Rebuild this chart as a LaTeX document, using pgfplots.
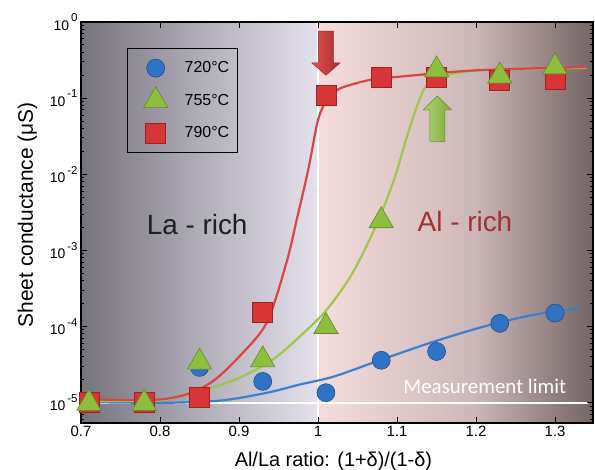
\documentclass[border=0pt]{standalone}
\usepackage{fontspec}
\setmainfont{Liberation Sans}
\newfontfamily\carlito{Carlito}
\usepackage{pgfplots}
\pgfplotsset{compat=1.18}
\definecolor{leftA}{HTML}{76737C}
\definecolor{leftB}{HTML}{B0ACB8}
\definecolor{leftC}{HTML}{E4E1EC}
\definecolor{rightA}{HTML}{F6DCDC}
\definecolor{rightB}{HTML}{CBB6B7}
\definecolor{rightC}{HTML}{756565}
\definecolor{blueF}{HTML}{2F74C4}
\definecolor{blueD}{HTML}{1F4F8F}
\definecolor{blueL}{HTML}{3A80D0}
\definecolor{greenF}{HTML}{8DBE3E}
\definecolor{greenD}{HTML}{5F8A26}
\definecolor{greenL}{HTML}{9CC84A}
\definecolor{redF}{HTML}{D83636}
\definecolor{redD}{HTML}{9E2020}
\definecolor{redL}{HTML}{D94444}
\definecolor{alrich}{HTML}{A3302F}
\newcommand{\ex}[1]{\kern2bp\raisebox{0.6em}{\fontsize{11.5}{12}\selectfont #1}}
\begin{document}
\begin{tikzpicture}
\begin{axis}[
  width=512bp, height=401bp, scale only axis,
  xmin=0.7, xmax=1.348, ymode=log, ymin=5.4e-6, ymax=1,
  clip=false, axis on top,
  axis line style={line width=1.4bp, black},
  every tick/.style={black, line width=1bp},
  major tick length=6bp, minor tick length=3.5bp,
  xtick={0.7,0.8,0.9,1,1.1,1.2,1.3},
  xticklabels={0.7,0.8,0.9,1,1.1,1.2,1.3},
  ytick={1e-5,1e-4,1e-3,1e-2,1e-1,1},
  yticklabels={10\ex{-5},10\ex{-4},10\ex{-3},10\ex{-2},10\ex{-1},10\ex{0}},
  minor ytick={6e-6,7e-6,8e-6,9e-6,2e-5,3e-5,4e-5,5e-5,6e-5,7e-5,8e-5,9e-5,2e-4,3e-4,4e-4,5e-4,6e-4,7e-4,8e-4,9e-4,2e-3,3e-3,4e-3,5e-3,6e-3,7e-3,8e-3,9e-3,2e-2,3e-2,4e-2,5e-2,6e-2,7e-2,8e-2,9e-2,0.2,0.3,0.4,0.5,0.6,0.7,0.8,0.9},
  xticklabel style={font=\fontsize{15}{17}\selectfont},
  yticklabel style={font=\fontsize{14}{16}\selectfont},
  xlabel={Al/La ratio: (1+δ)/(1-δ)},
  ylabel={Sheet conductance (μS)},
  xlabel style={font=\fontsize{20}{22}\selectfont, at={(axis description cs:0.493,-0.1097)}, anchor=base},
  ylabel style={font=\fontsize{21}{23}\selectfont, at={(axis description cs:-0.0938,0.519)}, anchor=base},
  legend style={at={(rel axis cs:0.09,0.935)}, anchor=north west, draw=black, line width=1.2bp, fill=none,
    font=\fontsize{16}{18}\selectfont, inner xsep=6bp, inner ysep=3.25bp, column sep=14bp, row sep=0bp},
  legend cell align=left,
  legend image code/.code={\path[draw=none,fill=none] (-22bp,-16.25bp) rectangle (13bp,16.25bp); \draw[#1] plot coordinates {(0bp,0bp)};},
]
% background
\shade[left color=leftA, right color=leftB] (axis cs:0.7,5.4e-6) rectangle (axis cs:0.851,1);
\shade[left color=leftB, right color=leftC] (axis cs:0.85,5.4e-6) rectangle (axis cs:1.0,1);
\shade[left color=rightA, right color=rightB] (axis cs:1.0,5.4e-6) rectangle (axis cs:1.201,1);
\shade[left color=rightB, right color=rightC] (axis cs:1.2,5.4e-6) rectangle (axis cs:1.348,1);
\draw[white, line width=1.2bp] (axis cs:1,5.4e-6) -- (axis cs:1,1);
\draw[white, line width=2bp] (axis cs:0.7,1e-5) -- (axis cs:1.342,1e-5);

\addlegendimage{only marks, mark=*, mark size=9bp, mark options={fill=blueF, draw=blueD, line width=0.6bp}}
\addlegendentry{720°C}
\addlegendimage{only marks, mark=triangle*, mark size=14bp, mark options={fill=greenF, draw=greenD, line width=0.6bp}}
\addlegendentry{755°C}
\addlegendimage{only marks, mark=square*, mark size=10bp, mark options={fill=redF, draw=redD, line width=0.6bp}}
\addlegendentry{790°C}

% fitted curves
\addplot[blueL, line width=2.2bp, smooth, forget plot] coordinates {
(0.70,1.02e-5) (0.76,1.0e-5) (0.82,1.0e-5) (0.87,1.05e-5) (0.90,1.15e-5) (0.94,1.38e-5) (0.977,1.73e-5) (1.02,2.2e-5)
(1.078,3.6e-5) (1.146,6.3e-5) (1.213,1.02e-4) (1.272,1.42e-4) (1.332,1.77e-4)};
\addplot[greenL, line width=2.2bp, smooth, forget plot] coordinates {
(0.70,1.05e-5) (0.75,1.05e-5) (0.80,1.07e-5) (0.85,1.4e-5) (0.90,2.1e-5) (0.943,3.7e-5) (0.977,7.4e-5) (1.011,1.66e-4)
(1.044,5.1e-4) (1.075,2.3e-3) (1.097,9e-3) (1.112,0.03) (1.125,0.077) (1.138,0.15) (1.163,0.2) (1.214,0.235) (1.34,0.25)};
\addplot[redL, line width=2.2bp, smooth, forget plot] coordinates {
(0.70,1.12e-5) (0.75,1.08e-5) (0.80,1.1e-5) (0.83,1.25e-5) (0.85,1.5e-5) (0.872,2.1e-5) (0.90,4.0e-5) (0.935,1.12e-4)
(0.96,6.9e-4) (0.974,2.8e-3) (0.988,1.2e-2) (0.999,0.047) (1.007,0.08) (1.017,0.11) (1.03,0.137) (1.066,0.174) (1.10,0.19) (1.2,0.232) (1.34,0.256)};

% data markers
\addplot[only marks, mark=*, mark size=9bp, mark options={fill=blueF, draw=blueD, line width=0.6bp}, forget plot] coordinates {
(0.71,1.0e-5) (0.78,1.0e-5) (0.85,2.9e-5) (0.93,1.9e-5) (1.01,1.35e-5) (1.08,3.6e-5) (1.15,4.7e-5) (1.23,1.1e-4) (1.30,1.5e-4)};
\addplot[only marks, mark=square*, mark size=10bp, mark options={fill=redF, draw=redD, line width=0.6bp}, forget plot] coordinates {
(0.71,1.0e-5) (0.78,1.0e-5) (0.85,1.17e-5) (0.93,1.55e-4) (1.01,0.11) (1.08,0.185) (1.15,0.185) (1.23,0.17) (1.30,0.175)};
\addplot[only marks, mark=triangle*, mark size=14bp, mark options={fill=greenF, draw=greenD, line width=0.6bp}, forget plot] coordinates {
(0.71,9.8e-6) (0.78,9.8e-6) (0.85,3.4e-5) (0.93,3.65e-5) (1.01,1.0e-4) (1.08,2.45e-3) (1.15,0.235) (1.23,0.195) (1.30,0.257)};

% arrows
\shadedraw[left color=redF!85!white, right color=redF!80!black, draw=redD, line width=0.5bp]
 (axis cs:1.0005,0.76) -- (axis cs:1.0195,0.76) -- (axis cs:1.0195,0.29) -- (axis cs:1.0277,0.29) -- (axis cs:1.01,0.2) -- (axis cs:0.9923,0.29) -- (axis cs:1.0005,0.29) -- cycle;
\shadedraw[left color=greenF!70!white, right color=greenF!90!black, draw=greenD, line width=0.5bp]
 (axis cs:1.1415,0.027) -- (axis cs:1.1605,0.027) -- (axis cs:1.1605,0.07) -- (axis cs:1.1687,0.07) -- (axis cs:1.151,0.107) -- (axis cs:1.1333,0.07) -- (axis cs:1.1415,0.07) -- cycle;

% texts
\node[anchor=base, font=\fontsize{28}{30}\selectfont, text=black!88] at (axis cs:0.847,1.6e-3) {La - rich};
\node[anchor=base, font=\fontsize{28}{30}\selectfont, text=alrich] at (axis cs:1.186,1.78e-3) {Al - rich};
\node[anchor=base, font=\carlito\fontsize{21}{23}\selectfont, text=white] at (axis cs:1.211,1.31e-5) {Measurement limit};
\end{axis}
\pgfresetboundingbox
\path[use as bounding box] ([xshift=-81bp,yshift=-47bp]current axis.south west) rectangle ([xshift=2bp,yshift=22bp]current axis.north east);
\end{tikzpicture}
\end{document}
